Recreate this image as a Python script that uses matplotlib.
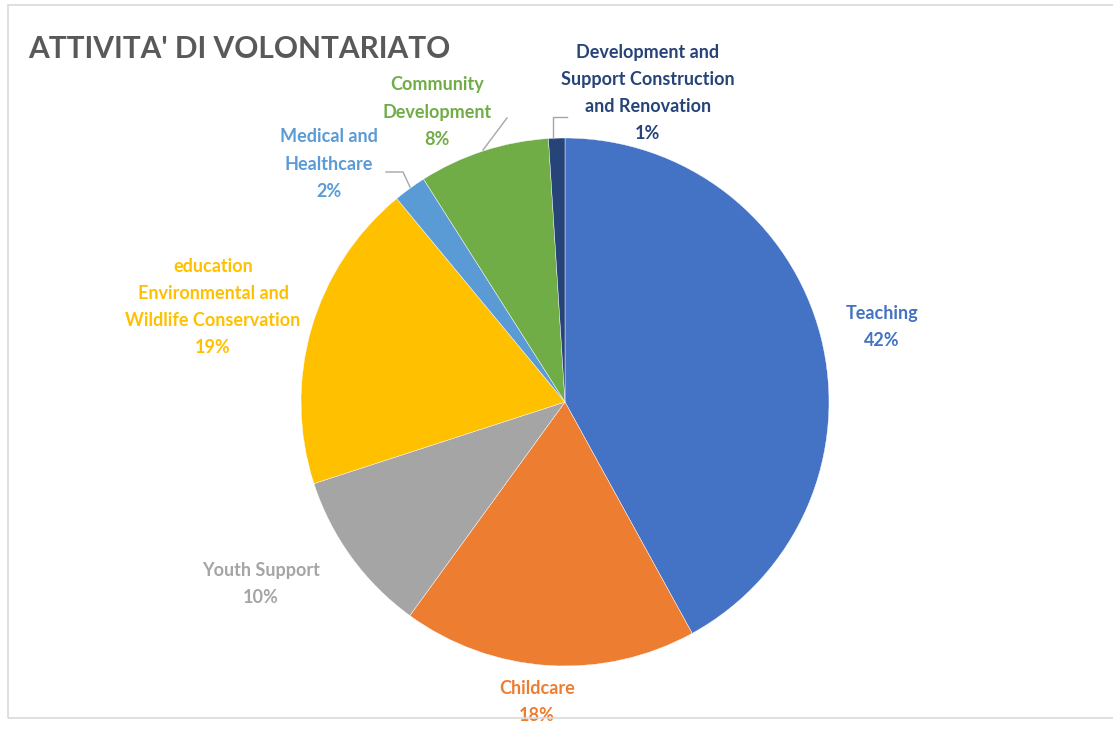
"""Pie chart of volunteering activities (ATTIVITA' DI VOLONTARIATO)."""

import matplotlib.pyplot as plt
from matplotlib.patches import Rectangle

W, H = 1113, 729

categories = [
    "Teaching",
    "Childcare",
    "Youth Support",
    "education\nEnvironmental and\nWildlife Conservation",
    "Medical and\nHealthcare",
    "Community\nDevelopment",
    "Development and\nSupport Construction\nand Renovation",
]
shares = [42, 18, 10, 19, 2, 8, 1]
slice_colors = ["#4472C4", "#ED7D31", "#A5A5A5", "#FFC000", "#5B9BD5", "#70AD47", "#264478"]
label_colors = ["#4472C4", "#ED7D31", "#A5A5A5", "#FFC000", "#5B9BD5", "#70AD47", "#264478"]

# label centres (pixel coords, top-left origin)
label_pos = [(882, 327), (537, 702), (261, 584), (213, 307), (329, 164), (437, 112), (648, 93)]

plt.rcParams["font.family"] = ["Lato", "DejaVu Sans"]

fig = plt.figure(figsize=(W / 100, H / 100), dpi=100)
ax = fig.add_axes([0, 0, 1, 1])

# chart frame
fig.patches.append(Rectangle((8 / W, 1 - 718 / H), 1.2, (718 - 5) / H,
                             transform=fig.transFigure, fill=False,
                             edgecolor="#D9D9D9", linewidth=1.2))

cx, cy, r = 565, H - 402, 264
ax.pie(shares, colors=slice_colors, startangle=90, counterclock=False,
       center=(cx, cy), radius=r, frame=True,
       wedgeprops=dict(edgecolor="white", linewidth=0.3))
ax.set_xlim(0, W)
ax.set_ylim(0, H)
ax.set_aspect("equal")
ax.axis("off")

for name, val, (x, y), col in zip(categories, shares, label_pos, label_colors):
    ax.text(x, H - y, f"{name}\n{val}%", color=col, ha="center", va="center",
            fontsize=13, fontweight="bold", linespacing=1.72)

# leader lines
leaders = [
    [(386, 172), (403, 172), (410, 187)],
    [(507, 118), (483, 150)],
    [(567, 117), (553, 117), (553, 138)],
]
for pts in leaders:
    xs = [p[0] for p in pts]
    ys = [H - p[1] for p in pts]
    ax.plot(xs, ys, color="#A6A6A6", linewidth=1)

fig.text(28 / W, 1 - 49 / H, "ATTIVITA' DI VOLONTARIATO", fontsize=21.5,
         color="#595959", ha="left", va="center", fontweight="bold")

fig.savefig("out.png", dpi=100)
